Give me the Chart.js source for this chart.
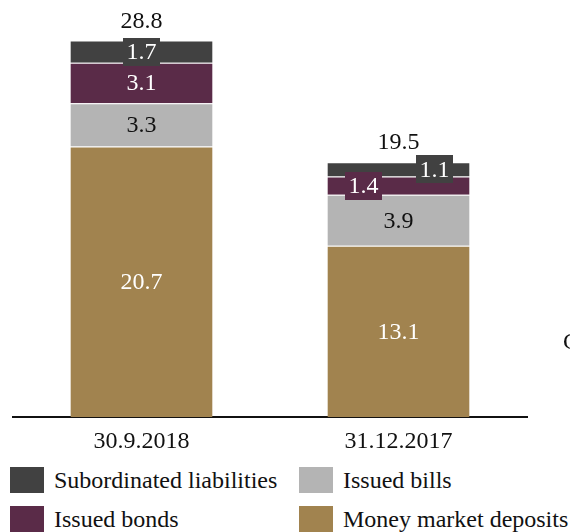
<!DOCTYPE html>
<html lang="en">
<head>
  <meta charset="UTF-8" />
  <title>Funding structure</title>
  <style>
    html, body {
      margin: 0;
      padding: 0;
      width: 570px;
      height: 532px;
      overflow: hidden;
      background: #fff;
      font-family: 'Liberation Serif', 'Times New Roman', serif;
      color: #111;
    }
    .chart-box {
      position: absolute;
      left: 0;
      top: 0;
      width: 570px;
      height: 466px;
    }
    .side-note {
      position: absolute;
      left: 563px;
      top: 328px;
      font-size: 24px;
      white-space: nowrap;
    }
    .legend {
      position: absolute;
      left: 10px;
      top: 467px;
      width: 560px;
      display: grid;
      grid-template-columns: 289px 271px;
      row-gap: 13px;
    }
    .legend-item {
      display: flex;
      align-items: center;
      height: 26px;
      font-size: 24px;
      white-space: nowrap;
    }
    .legend-item span.swatch {
      width: 34px;
      height: 26px;
      margin-right: 10px;
      flex: none;
    }
  </style>
</head>
<body>
  <div class="chart-box"><canvas id="fundingChart"></canvas></div>
  <div class="side-note">C</div>
  <div class="legend" id="legend"></div>

  <script src="https://cdn.jsdelivr.net/npm/chart.js"></script>
  <script>
    // Dates on the x axis
    const periods = ['30.9.2018', '31.12.2017'];

    // Stack segments, bottom to top (EUR bn)
    const moneyMarket = [20.7, 13.1];
    const issuedBills = [3.3, 3.9];
    const issuedBonds = [3.1, 1.4];
    const subordinated = [1.7, 1.1];
    const totals = [28.8, 19.5];

    const seriesNames = ['Money market deposits', 'Issued bills', 'Issued bonds', 'Subordinated liabilities'];
    const seriesColors = ['#a1834f', '#b4b4b4', '#5a2b48', '#414141'];
    const labelColors = ['#fff', '#111', '#fff', '#fff'];

    // Thin segments get a boxed label, nudged sideways on the second bar
    const boxedLabel = [false, false, true, true];
    const labelShift = [[0, 0], [0, 0], [0, -35], [0, 36]];

    const serif = "'Liberation Serif', 'Times New Roman', serif";

    const datasets = [moneyMarket, issuedBills, issuedBonds, subordinated].map((values, i) => ({
      label: seriesNames[i],
      data: values,
      backgroundColor: seriesColors[i],
      borderColor: 'rgba(255,255,255,0.3)',
      borderWidth: { top: 1, left: 0, right: 0, bottom: 0 },
      borderSkipped: false,
      barPercentage: 0.553,
      categoryPercentage: 1
    }));

    // Segment values inside the bars and totals on top
    const valueLabels = {
      id: 'valueLabels',
      afterDatasetsDraw(chart) {
        const ctx = chart.ctx;
        ctx.save();
        ctx.font = '24px ' + serif;
        ctx.textAlign = 'center';
        ctx.textBaseline = 'middle';
        chart.data.datasets.forEach((ds, i) => {
          chart.getDatasetMeta(i).data.forEach((bar, j) => {
            const x = bar.x + labelShift[i][j];
            const y = (bar.y + bar.base) / 2;
            const text = ds.data[j].toFixed(1);
            if (boxedLabel[i]) {
              const w = ctx.measureText(text).width + 7;
              ctx.fillStyle = seriesColors[i];
              ctx.fillRect(Math.round(x - w / 2), Math.round(y - 14), Math.round(w), 28);
            }
            ctx.fillStyle = labelColors[i];
            ctx.fillText(text, x, y + 1);
          });
        });
        const top = chart.getDatasetMeta(chart.data.datasets.length - 1);
        ctx.fillStyle = '#111';
        top.data.forEach((bar, j) => {
          ctx.fillText(totals[j].toFixed(1), bar.x, bar.y - 19);
        });
        ctx.restore();
      }
    };

    const fundingChart = new Chart(document.getElementById('fundingChart'), {
      type: 'bar',
      data: { labels: periods, datasets: datasets },
      options: {
        responsive: true,
        maintainAspectRatio: false,
        animation: false,
        layout: { padding: { left: 13, right: 43, top: 0, bottom: 0 } },
        scales: {
          x: {
            stacked: true,
            grid: { display: false, drawTicks: false },
            border: { display: true, color: '#111', width: 2 },
            ticks: { color: '#111', padding: 10, font: { family: serif, size: 24 } }
          },
          y: {
            stacked: true,
            display: false,
            min: 0,
            max: 31.9
          }
        },
        plugins: {
          legend: { display: false },
          tooltip: { enabled: false }
        }
      },
      plugins: [valueLabels]
    });

    // Legend in two columns: top-of-stack series first
    const legendOrder = [3, 1, 2, 0];
    const legendEl = document.getElementById('legend');
    legendOrder.forEach(i => {
      const item = document.createElement('div');
      item.className = 'legend-item';
      item.innerHTML = '<span class="swatch" style="background:' + seriesColors[i] + '"></span>' + seriesNames[i];
      legendEl.appendChild(item);
    });
  </script>
</body>
</html>
